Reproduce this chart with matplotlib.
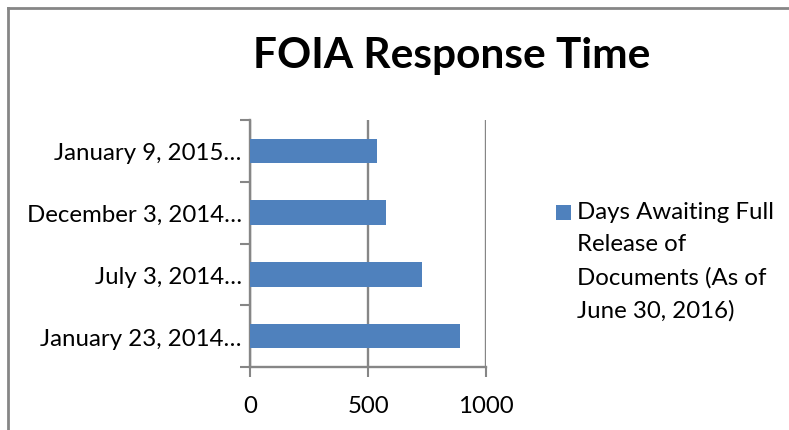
import matplotlib
matplotlib.use("Agg")
import matplotlib.pyplot as plt
from matplotlib.lines import Line2D
from matplotlib.patches import Rectangle
import numpy as np

categories = ["January 23, 2014\u2026", "July 3, 2014\u2026", "December 3, 2014\u2026", "January 9, 2015\u2026"]
days_awaiting = [890, 727, 575, 537]
series_name = "Days Awaiting Full\nRelease of\nDocuments (As of\nJune 30, 2016)"
title = "FOIA Response Time"
xticks = [0, 500, 1000]

plt.rcParams['font.family'] = ['Lato', 'DejaVu Sans']
grey = "#868686"
bar_color = "#4F81BD"
fs = 17.3

fig = plt.figure(figsize=(7.89, 4.31), dpi=100)
ax = fig.add_axes([250/789, 1-368/431, 236/789, 247/431])

y = np.arange(len(categories))
ax.barh(y, days_awaiting, height=0.4, color=bar_color, zorder=3)
ax.set_xlim(0, 1000)
ax.set_ylim(-0.5, len(categories)-0.5)

ax.set_xticks(xticks)
ax.set_xticklabels([str(t) for t in xticks], fontsize=fs)
ax.set_yticks(y)
ax.set_yticklabels(categories, fontsize=fs)
ax.set_yticks(np.arange(-0.5, len(categories), 1.0), minor=True)
ax.tick_params(axis='y', which='major', length=0, pad=6)
ax.tick_params(axis='y', which='minor', length=7, width=1.5, color=grey)
ax.tick_params(axis='x', which='major', length=7, width=1.5, color=grey, pad=13)

ax.grid(axis='x', color=grey, linewidth=1.7, zorder=0)
for s in ['top', 'right']:
    ax.spines[s].set_visible(False)
for s in ['left', 'bottom']:
    ax.spines[s].set_color(grey)
    ax.spines[s].set_linewidth(1.7)

fig.text(0.572, 1-56/431, title, fontsize=30.5, fontweight='bold', ha='center', va='center')

# legend drawn as a marker square plus text block
fig.add_artist(Rectangle((556/789, 1-221/431), 15/789, 15/431, facecolor=bar_color,
                         edgecolor='none', transform=fig.transFigure))
fig.text(577/789, 1-202/431, series_name, fontsize=fs, ha='left', va='top', linespacing=1.66)

# chart border (left and top)
fig.add_artist(Line2D([8/789, 8/789], [0, 1-9/431], color=grey, linewidth=2, transform=fig.transFigure))
fig.add_artist(Line2D([8/789, 1], [1-9/431, 1-9/431], color=grey, linewidth=2, transform=fig.transFigure))

fig.savefig("out.png", dpi=100)
